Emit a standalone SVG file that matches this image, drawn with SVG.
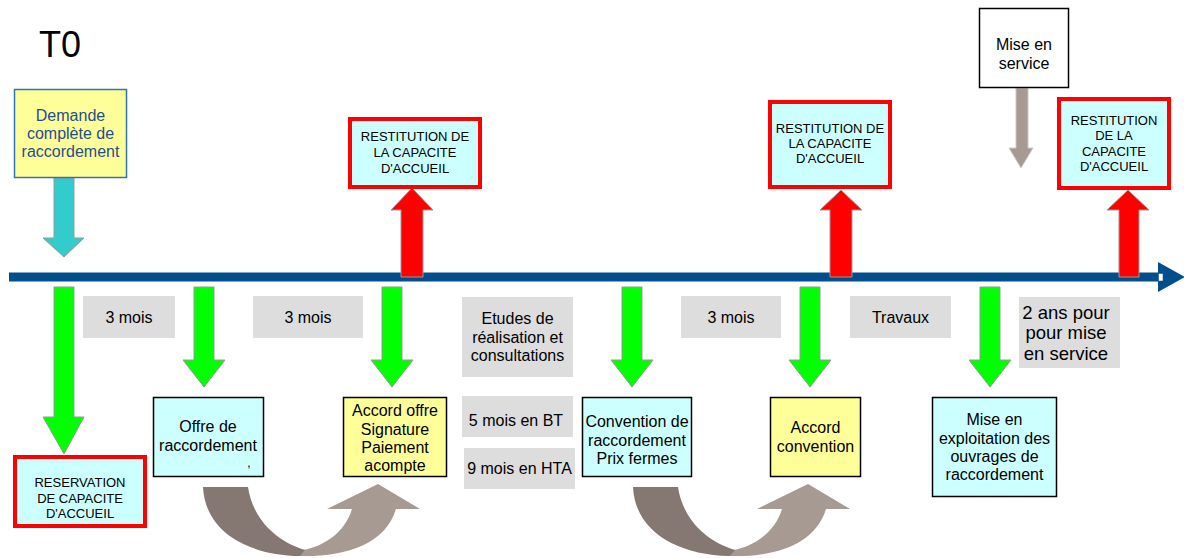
<svg xmlns="http://www.w3.org/2000/svg" width="1184" height="558" viewBox="0 0 1184 558">
<style>
text{font-family:"Liberation Sans",Arial,sans-serif;fill:#000;text-anchor:middle}
.f16{font-size:16px}
.f13{font-size:13px}
.cyan{fill:#ccffff;stroke:#000;stroke-width:1.5}
.yel{fill:#ffff99;stroke:#000;stroke-width:1.5}
.red{fill:#ccffff;stroke:#ff0000;stroke-width:4}
.grey{fill:#dddddd}
.ga{fill:#00ff00;stroke:#999;stroke-width:1}
.ra{fill:#ff0000;stroke:#999;stroke-width:1}
.dk{fill:#857772}
.lt{fill:#a69a93}
</style>
<rect width="1184" height="558" fill="#fff"/>
<text x="39" y="57" style="font-size:36px;text-anchor:start">T0</text>

<g id="connectors">
  <rect x="9" y="272.5" width="1150" height="9" fill="#004f8c"/>
  <polygon points="1158,262 1185,277 1158,292" fill="#004f8c"/>
  <rect x="1158.5" y="273.5" width="4.5" height="7.5" fill="#fff" stroke="#004f8c" stroke-width="0.5"/>
  <polygon points="54,178 74,178 74,238 84,238 64,257 43,238 54,238" fill="#33cccc" stroke="#999"/>
  <polygon class="ga" points="54,287 74,287 74,417 84,417 64,454 43,417 54,417"/>
  <polygon class="ga" points="194,287 214,287 214,360 225,360 204,387 183,360 194,360"/>
  <polygon class="ga" points="382,287 402,287 402,360 413,360 392,387 371,360 382,360"/>
  <polygon class="ga" points="622,287 642,287 642,360 653,360 632,387 611,360 622,360"/>
  <polygon class="ga" points="800,287 820,287 820,360 831,360 810,387 789,360 800,360"/>
  <polygon class="ga" points="980,287 1000,287 1000,360 1011,360 990,387 969,360 980,360"/>
  <polygon class="ra" points="401,277 423,277 423,210 433,210 412,188 391,210 401,210"/>
  <polygon class="ra" points="830,277 852,277 852,210 862,210 841,190 820,210 830,210"/>
  <polygon class="ra" points="1119,277 1139,277 1139,210 1149,210 1128,190 1107,210 1119,210"/>
  <polygon points="1016,88 1028,88 1028,148 1033,148 1021,168 1009,148 1016,148" fill="#a69a93" stroke="#d0c8c4" stroke-width="1"/>
  <g id="curve1">
    <path class="lt" d="M300,556 C345,557 385,545 396,509 L420,509 L378,484 L327,509 L352,509 C345,532 325,546 303,550 Z"/>
    <path class="dk" d="M203,487 L248,487 C252,515 272,540 305,550 L300,556 C245,555 205,530 203,487 Z"/>
  </g>
  <g id="curve2" transform="translate(430,0)">
    <path class="lt" d="M300,556 C345,557 385,545 396,509 L420,509 L378,484 L327,509 L352,509 C345,532 325,546 303,550 Z"/>
    <path class="dk" d="M203,487 L248,487 C252,515 272,540 305,550 L300,556 C245,555 205,530 203,487 Z"/>
  </g>
</g>

<g id="demande">
  <rect x="14.5" y="89.5" width="112" height="88" fill="#ffff99" stroke="#2e75b6" stroke-width="1.5"/>
  <text class="f16" x="70.5" y="120.5" style="fill:#1f4e8c">Demande</text>
  <text class="f16" x="70.5" y="138.5" style="fill:#1f4e8c">complète de</text>
  <text class="f16" x="70.5" y="157" style="fill:#1f4e8c">raccordement</text>
</g>

<g id="restitution1">
  <rect class="red" x="350" y="119" width="130" height="68"/>
  <text class="f13" x="415" y="140.5">RESTITUTION DE</text>
  <text class="f13" x="415" y="156.5">LA CAPACITE</text>
  <text class="f13" x="415" y="172.5">D'ACCUEIL</text>
</g>

<g id="restitution2">
  <rect class="red" x="770" y="102" width="120" height="85"/>
  <text class="f13" x="830" y="132.5">RESTITUTION DE</text>
  <text class="f13" x="830" y="147.5">LA CAPACITE</text>
  <text class="f13" x="830" y="162.5">D'ACCUEIL</text>
</g>

<g id="mise-en-service">
  <rect x="979.5" y="8.5" width="89" height="79" fill="#fff" stroke="#000" stroke-width="1.5"/>
  <text class="f16" x="1024" y="49.5">Mise en</text>
  <text class="f16" x="1024" y="68.5">service</text>
</g>

<g id="restitution3">
  <rect class="red" x="1059" y="99" width="110" height="89"/>
  <text class="f13" x="1114" y="124.5">RESTITUTION</text>
  <text class="f13" x="1114" y="140">DE LA</text>
  <text class="f13" x="1114" y="155.5">CAPACITE</text>
  <text class="f13" x="1114" y="171">D'ACCUEIL</text>
</g>

<g id="reservation">
  <rect class="red" x="15" y="457" width="130" height="69"/>
  <text class="f13" x="80" y="486.5">RESERVATION</text>
  <text class="f13" x="80" y="502.5">DE CAPACITE</text>
  <text class="f13" x="80" y="517.5">D'ACCUEIL</text>
</g>

<g id="delai1">
  <rect class="grey" x="83" y="296" width="92" height="42"/>
  <text class="f16" x="129" y="322.5">3 mois</text>
</g>

<g id="offre">
  <rect class="cyan" x="153.5" y="397.5" width="110" height="79"/>
  <text class="f16" x="208" y="431.5">Offre de</text>
  <text class="f16" x="208" y="450.5">raccordement</text>
  <text x="249" y="467" style="font-size:12px">,</text>
</g>

<g id="delai2">
  <rect class="grey" x="253" y="296" width="110" height="42"/>
  <text class="f16" x="308" y="322.5">3 mois</text>
</g>

<g id="accord-offre">
  <rect class="yel" x="343.5" y="397.5" width="103" height="79"/>
  <text class="f16" x="395" y="416">Accord offre</text>
  <text class="f16" x="395" y="434.5">Signature</text>
  <text class="f16" x="395" y="453">Paiement</text>
  <text class="f16" x="395" y="471">acompte</text>
</g>

<g id="etudes">
  <rect class="grey" x="462" y="297" width="111" height="80"/>
  <text class="f16" x="517.5" y="323.5">Etudes de</text>
  <text class="f16" x="517.5" y="342.5">réalisation et</text>
  <text class="f16" x="517.5" y="361">consultations</text>
</g>

<g id="bt">
  <rect class="grey" x="462" y="396" width="111" height="41"/>
  <text class="f16" x="516" y="425.5">5 mois en BT</text>
</g>

<g id="hta">
  <rect class="grey" x="464" y="448" width="111" height="41"/>
  <text class="f16" x="519.5" y="473.5">9 mois en HTA</text>
</g>

<g id="convention">
  <rect class="cyan" x="582.5" y="397.5" width="109" height="79"/>
  <text class="f16" x="637" y="426.5">Convention de</text>
  <text class="f16" x="637" y="445.5">raccordement</text>
  <text class="f16" x="637" y="463.5">Prix fermes</text>
</g>

<g id="delai3">
  <rect class="grey" x="681" y="296" width="100" height="42"/>
  <text class="f16" x="731" y="322.5">3 mois</text>
</g>

<g id="accord-convention">
  <rect class="yel" x="770.5" y="397.5" width="90" height="79"/>
  <text class="f16" x="815.5" y="432.5">Accord</text>
  <text class="f16" x="815.5" y="451.5">convention</text>
</g>

<g id="travaux">
  <rect class="grey" x="850" y="296" width="101" height="42"/>
  <text class="f16" x="900.5" y="322.5">Travaux</text>
</g>

<g id="deux-ans">
  <rect class="grey" x="1019" y="297" width="101" height="71"/>
  <text x="1066" y="318.5" style="font-size:18.5px">2 ans pour</text>
  <text x="1066" y="339" style="font-size:18.5px">pour mise</text>
  <text x="1066" y="359.5" style="font-size:18.5px">en service</text>
</g>

<g id="mise-en-exploitation">
  <rect class="cyan" x="932.5" y="397.5" width="124" height="99"/>
  <text class="f16" x="994.5" y="425">Mise en</text>
  <text class="f16" x="994.5" y="443.5">exploitation des</text>
  <text class="f16" x="994.5" y="462">ouvrages de</text>
  <text class="f16" x="994.5" y="480">raccordement</text>
</g>
</svg>
